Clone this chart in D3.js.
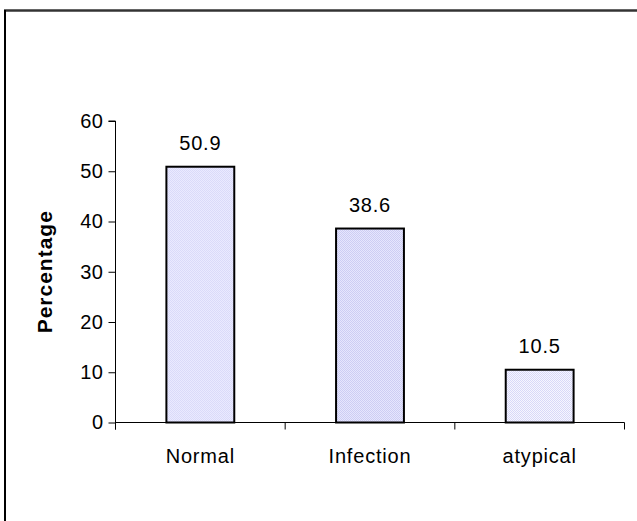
<!DOCTYPE html>
<html><head><meta charset="utf-8">
<script src="https://cdn.jsdelivr.net/npm/d3@7"></script>
<style>html,body{margin:0;padding:0;background:#fff;}svg{display:block;}</style>
</head><body>
<script>
const categories = ["Normal", "Infection", "atypical"];
const values = [50.9, 38.6, 10.5];
const yTicks = [0, 10, 20, 30, 40, 50, 60];
const yLabel = "Percentage";

const W = 637, H = 521;
const svg = d3.select("body").append("svg").attr("width", W).attr("height", H);

// patterns
const defs = svg.append("defs");
const pats = [
  {id: "p0", base: "#eaeaff", dot: "#dadaf9"},
  {id: "p1", base: "#e6e6fd", dot: "#cdcdf3"},
  {id: "p2", base: "#f6f6ff", dot: "#d8d8f8"}
];
pats.forEach(p => {
  const pt = defs.append("pattern").attr("id", p.id).attr("patternUnits", "userSpaceOnUse")
    .attr("width", 2).attr("height", 2);
  pt.append("rect").attr("width", 2).attr("height", 2).attr("fill", p.base);
  pt.append("rect").attr("width", 1).attr("height", 1).attr("fill", p.dot);
  pt.append("rect").attr("x", 1).attr("y", 1).attr("width", 1).attr("height", 1).attr("fill", p.dot);
});

// outer frame (top and left lines)
svg.append("line").attr("x1", 4).attr("x2", W).attr("y1", 10.5).attr("y2", 10.5)
  .attr("stroke", "#333").attr("stroke-width", 2.5);
svg.append("line").attr("x1", 5).attr("x2", 5).attr("y1", 10).attr("y2", H)
  .attr("stroke", "#000").attr("stroke-width", 2);

const x0 = 115.5, x1 = 624.5, yTop = 121, yBot = 422.5;
const x = d3.scaleBand().domain(categories).range([x0, x1]).paddingInner(0.6).paddingOuter(0.3);
const y = d3.scaleLinear().domain([0, 60]).range([yBot, yTop]);

const font = "'Liberation Sans', Arial, sans-serif";

// y axis
const yAxis = d3.axisLeft(y).tickValues(yTicks).tickSize(7).tickPadding(5).tickFormat(d3.format("d"));
const gy = svg.append("g").attr("transform", `translate(${x0},0)`).call(yAxis)
  .attr("font-size", null).attr("font-family", null);
gy.select(".domain").attr("stroke", "#000").attr("d", `M-7,${yTop}H0V${yBot + 7}`);
gy.selectAll(".tick line").attr("stroke", "#000");
gy.selectAll(".tick text").style("font-family", font).style("font-size", "20px")
  .style("letter-spacing", "0.5px").attr("fill", "#000");

// x axis with ticks at category boundaries
const xAxisG = svg.append("g");
xAxisG.append("line").attr("x1", x0).attr("x2", x1).attr("y1", yBot).attr("y2", yBot).attr("stroke", "#000");
const bounds = d3.range(categories.length + 1).map(i => x0 + i * (x1 - x0) / categories.length);
xAxisG.selectAll("line.t").data(bounds).enter().append("line").attr("class", "t")
  .attr("x1", d => d).attr("x2", d => d).attr("y1", yBot).attr("y2", yBot + 7).attr("stroke", "#000");
xAxisG.selectAll("text").data(categories).enter().append("text")
  .attr("x", d => x(d) + x.bandwidth() / 2).attr("y", 463)
  .attr("text-anchor", "middle").style("font-family", font).style("font-size", "20px")
  .style("letter-spacing", "0.8px").attr("fill", "#000")
  .text(d => d);

// bars
svg.selectAll("rect.bar").data(values).enter().append("rect").attr("class", "bar")
  .attr("x", (d, i) => x(categories[i]))
  .attr("y", d => y(d))
  .attr("width", x.bandwidth())
  .attr("height", d => yBot - y(d))
  .attr("fill", (d, i) => `url(#p${i})`)
  .attr("stroke", "#000").attr("stroke-width", 2);

// value labels
svg.selectAll("text.val").data(values).enter().append("text").attr("class", "val")
  .attr("x", (d, i) => x(categories[i]) + x.bandwidth() / 2)
  .attr("y", d => y(d) - 17)
  .attr("text-anchor", "middle").style("font-family", font).style("font-size", "20px")
  .style("letter-spacing", "0.8px").attr("fill", "#000")
  .text(d => d.toFixed(1));

// y label
svg.append("text").attr("transform", `translate(52,${(yTop + yBot) / 2}) rotate(-90)`)
  .attr("text-anchor", "middle").style("font-family", font).style("font-size", "21px")
  .style("letter-spacing", "1px").attr("font-weight", "bold").attr("fill", "#000").text(yLabel);
</script>
</body></html>
